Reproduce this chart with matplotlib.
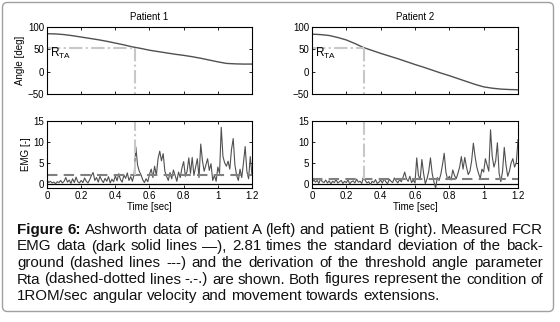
import matplotlib
matplotlib.use("Agg")
import matplotlib.pyplot as plt
from matplotlib.patches import FancyBboxPatch
from matplotlib.transforms import IdentityTransform

plt.rcParams['font.family'] = ['Liberation Sans', 'DejaVu Sans']
plt.rcParams['mathtext.fontset'] = 'custom'
plt.rcParams['mathtext.rm'] = 'Liberation Sans'

# angle trajectories (deg), read every 0.05 s
t_angle = [0.00, 0.05, 0.10, 0.15, 0.20, 0.25, 0.30, 0.35, 0.40, 0.45, 0.50, 0.55,
           0.60, 0.65, 0.70, 0.75, 0.80, 0.85, 0.90, 0.95, 1.00, 1.05, 1.10, 1.15, 1.20]
angle_p1 = [85, 84.5, 83, 80.5, 77.5, 74.5, 71.5, 68, 64, 60, 55.5, 52,
            48, 45, 42, 39, 36.5, 33.5, 30, 26, 22, 18.5, 17.5, 17, 17]
angle_p2 = [84, 83, 81, 76.5, 71, 63, 54, 47.5, 41, 35, 29, 22.5,
            16, 10, 3.5, -3, -9, -15.5, -22, -28.5, -34, -37, -39, -40, -40.5]

# EMG (-), read every 0.01 s
t_emg = [i / 100 for i in range(121)]
emg_p1 = [1.0, 0.3, 0.6, 0.2, 0.4, 0.0, 0.5, 0.3, 0.8, 0.2,
          0.6, 1.5, 0.4, 0.9, 0.1, 1.2, 0.3, 1.6, 0.5, 0.2,
          0.8, 0.3, 1.4, 0.6, 0.2, 1.0, 2.0, 2.7, 0.8, 1.5,
          0.4, 1.8, 0.9, 0.3, 1.3, 0.6, 1.7, 0.2, 1.1, 0.5,
          1.9, 0.7, 2.4, 1.0, 0.4, 2.1, 1.3, 2.6, 0.8, 1.7,
          0.6, 2.2, 8.8, 4.5, 3.0, 2.2, 1.0, 0.3, 1.2, 0.5,
          2.3, 3.5, 1.5, 4.2, 2.0, 6.0, 7.8, 5.5, 7.2, 3.0,
          1.8, 0.8, 2.7, 1.2, 3.3, 2.0, 0.6, 2.8, 1.5, 3.8,
          5.3, 1.8, 3.0, 6.2, 2.5, 6.3, 2.0, 4.0, 6.0, 1.5,
          9.5, 5.5, 3.0, 4.5, 6.0, 3.2, 4.8, 0.8, 2.0, 0.6,
          4.0, 2.5, 13.5, 6.5, 5.0, 4.2, 5.4, 3.5, 8.2, 10.8,
          4.5, 2.0, 0.8, 3.5, 1.5, 5.0, 8.9, 3.0, 1.2, 6.5,
          2.0]
emg_p2 = [0.2, 1.0, 0.4, 0.8, 0.1, 1.2, 0.5, 0.3, 0.9, 0.2,
          0.7, 0.0, 0.6, 0.3, 1.0, 0.2, 0.5, 0.8, 0.1, 0.6,
          0.3, 0.9, 0.0, 0.5, 0.7, 0.2, 1.1, 0.4, 0.6, 0.1,
          1.6, 0.8, 0.2, 0.5, -0.2, 0.6, 0.3, 1.0, 0.1, 0.4,
          0.9, 0.2, 1.2, 0.5, 0.0, 1.1, 0.6, 0.3, 1.4, 0.7,
          0.2, 1.0, 0.5, 1.5, 2.8, 1.2, 0.6, 1.8, 0.3, 0.9,
          0.2, 6.2, 2.0, 1.0, 5.8, 2.5, 0.0, 1.2, 3.0, 6.2,
          2.5, 0.5, -1.0, 1.5, 0.8, 2.2, 4.5, 7.3, 2.8, 1.0,
          1.8, 0.9, 3.3, 2.0, 1.2, 2.5, 4.0, 6.5, 3.5, 6.3,
          4.0, 2.2, 3.0, 5.5, 9.7, 6.5, 4.0, 2.5, 1.3, 3.5,
          2.8, 6.0, 4.5, 3.0, 12.9, 6.5, 4.0, 5.5, 9.8, 2.5,
          0.5, 3.0, 8.7, 4.5, 1.8, 3.0, 5.0, 6.0, 4.0, 5.0,
          10.5]

# threshold angle instant, angle at that instant, background threshold
t_rta = [0.515, 0.304]
angle_rta = [54, 54]
threshold = [2.05, 1.1]

titles = ["Patient 1", "Patient 2"]
caption_bold = "Figure 6:"
caption_lines = [
    "Ashworth data of patient A (left) and patient B (right). Measured FCR",
    "EMG data (dark solid lines \u2014), 2.81 times the standard deviation of the back-",
    "ground (dashed lines ---) and the derivation of the threshold angle parameter",
    "Rta (dashed-dotted lines -.-.) are shown. Both figures represent the condition of",
    "1ROM/sec angular velocity and movement towards extensions.",
]

W, H = 560, 322
fig = plt.figure(figsize=(W / 100, H / 100), dpi=100)


def px_axes(l, t, r, b):
    return fig.add_axes([l / W, 1 - b / H, (r - l) / W, (b - t) / H])


line_col = '#505050'
rta_col = '#c8c8c8'
thr_col = '#808080'
fs = 7

lefts = [47, 312]
rights = [252, 518]
angles = [angle_p1, angle_p2]
emgs = [emg_p1, emg_p2]

for i in range(2):
    ax = px_axes(lefts[i], 27, rights[i], 94)
    ax.plot(t_angle, angles[i], color=line_col, lw=1.0)
    ax.plot([0, t_rta[i]], [angle_rta[i], angle_rta[i]], color=rta_col, lw=1.5,
            ls='-.')
    ax.plot([t_rta[i], t_rta[i]], [angle_rta[i], -50], color=rta_col, lw=1.5, ls='-.')
    ax.text(0.02, 32, r'R$_{\mathrm{TA}}$', fontsize=8.5, va='baseline')
    ax.set_xlim(0, 1.2)
    ax.set_ylim(-50, 100)
    ax.set_yticks([-50, 0, 50, 100])
    ax.set_xticks([0, 0.2, 0.4, 0.6, 0.8, 1.0, 1.2])
    ax.set_xticklabels([])
    ax.set_title(titles[i], fontsize=fs, pad=5)
    if i == 0:
        ax.set_ylabel('Angle [deg]', fontsize=fs, labelpad=2)

    ax2 = px_axes(lefts[i], 121, rights[i], 188)
    ax2.axhline(0, color='black', lw=0.9)
    ax2.plot(t_emg, emgs[i], color=line_col, lw=0.8)
    ax2.axhline(threshold[i], color=thr_col, lw=1.5, ls=(0, (5, 3)))
    ax2.plot([t_rta[i], t_rta[i]], [threshold[i], 15], color=rta_col, lw=1.5, ls='-.')
    ax2.set_xlim(0, 1.2)
    ax2.set_ylim(-1, 15)
    ax2.set_yticks([0, 5, 10, 15])
    ax2.set_xticks([0, 0.2, 0.4, 0.6, 0.8, 1.0, 1.2])
    ax2.set_xticklabels(['0', '0.2', '0.4', '0.6', '0.8', '1', '1.2'])
    ax2.set_xlabel('Time [sec]', fontsize=fs, labelpad=1)
    if i == 0:
        ax2.set_ylabel('EMG [-]', fontsize=fs, labelpad=2)

    for a in (ax, ax2):
        a.tick_params(direction='in', length=2.5, width=0.6, labelsize=fs, pad=2,
                      top=True, right=True)
        for s in a.spines.values():
            s.set_linewidth(0.8)

# rounded frame around figure + caption
frame = FancyBboxPatch((2.5, H - 311.5), 551, 309,
                       boxstyle='round,pad=0,rounding_size=5',
                       transform=IdentityTransform(), fill=False,
                       edgecolor='#a0a0a0', lw=1.0)
fig.add_artist(frame)

# justified caption
fig.canvas.draw()
renderer = fig.canvas.get_renderer()
x0, x1 = 17, 543
cap_fs = 10.9
y_lines = [230, 246.5, 263, 279.5, 296]
probe = fig.text(0, 0, '', fontsize=cap_fs, transform=IdentityTransform())


def width(s, weight='normal'):
    probe.set_text(s)
    probe.set_fontweight(weight)
    return probe.get_window_extent(renderer).width


def offsets(words, weight='normal'):
    # natural start of each word inside the line, measured with prefixes
    ref = width('X', weight)
    out = [0.0]
    for j in range(1, len(words)):
        out.append(width(' '.join(words[:j]) + ' X', weight) - ref)
    return out, width(' '.join(words), weight)


for k, line in enumerate(caption_lines):
    words = line.split(' ')
    weights = ['normal'] * len(words)
    starts, total = offsets(words)
    if k == 0:
        bwords = caption_bold.split(' ')
        bstarts, btotal = offsets(bwords, 'bold')
        shift = btotal + width('a a') - width('aa')
        starts = bstarts + [s + shift for s in starts]
        total = total + shift
        words = bwords + words
        weights = ['bold'] * len(bwords) + weights
    if k < len(caption_lines) - 1:
        extra = (x1 - x0 - total) / (len(words) - 1)
    else:
        extra = 0
    for j, (w, wt) in enumerate(zip(words, weights)):
        fig.text(x0 + starts[j] + j * extra, H - y_lines[k], w, fontsize=cap_fs,
                 fontweight=wt, va='center', ha='left', color='#111111',
                 transform=IdentityTransform())
probe.set_text('')

fig.savefig('out.png', dpi=100)
